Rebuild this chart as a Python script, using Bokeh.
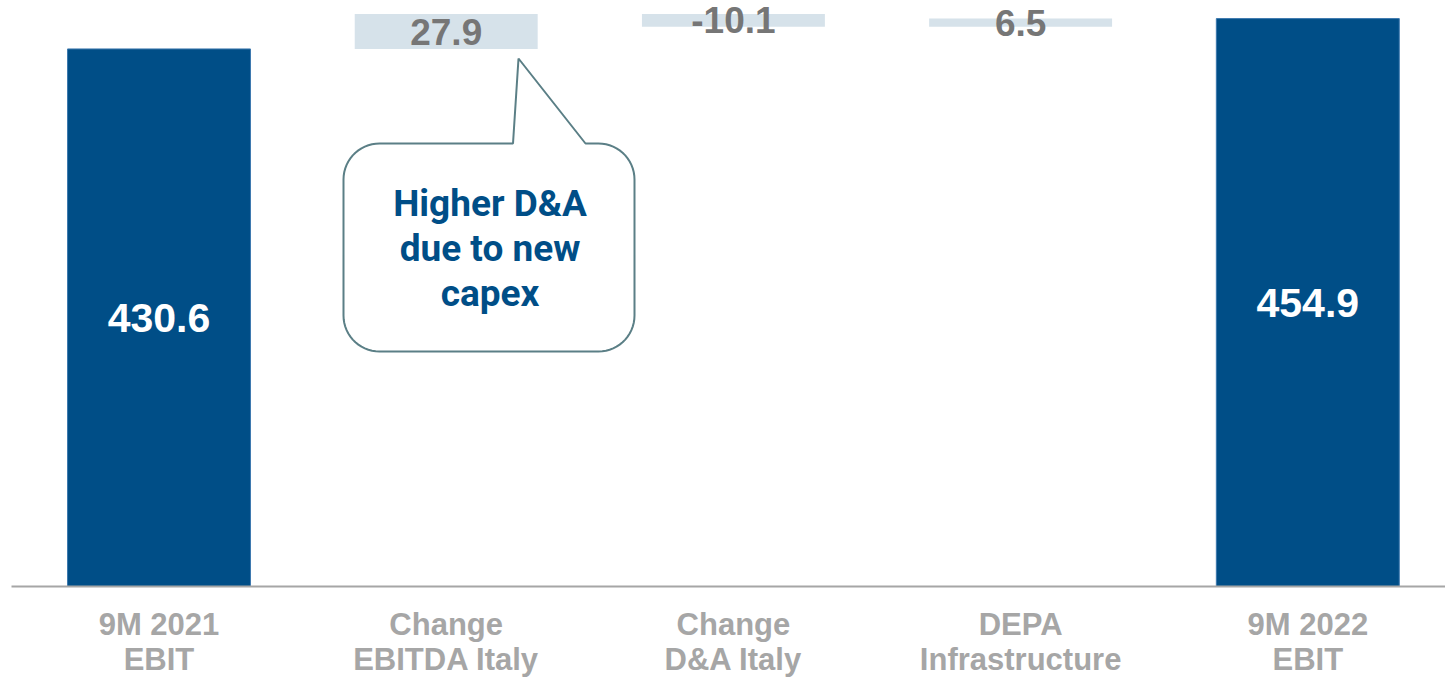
import numpy as np
from bokeh.plotting import figure
from bokeh.models import ColumnDataSource, FixedTicker, Range1d
from bokeh.core.properties import value
from bokeh.embed import file_html
from bokeh.resources import INLINE

# ---- data ----
categories = ["9M 2021\nEBIT", "Change\nEBITDA Italy", "Change\nD&A Italy", "DEPA\nInfrastructure", "9M 2022\nEBIT"]
start_total = 430.6
changes = [27.9, -10.1, 6.5]
end_total = 454.9
callout_text = "Higher D&A\ndue to new\ncapex"

# ---- waterfall geometry ----
xs = list(range(len(categories)))
bottoms, tops, labels, is_total = [], [], [], []
bottoms.append(0); tops.append(start_total); labels.append(f"{start_total:.1f}"); is_total.append(True)
run = start_total
for d in changes:
    nb, nt = min(run, run + d), max(run, run + d)
    bottoms.append(nb); tops.append(nt); labels.append(f"{d:.1f}"); is_total.append(False)
    run += d
bottoms.append(0); tops.append(end_total); labels.append(f"{end_total:.1f}"); is_total.append(True)

DARK = "#004E87"
LIGHT = "#D6E2EA"
tot_idx = [i for i in xs if is_total[i]]
chg_idx = [i for i in xs if not is_total[i]]

W, H = 1445, 679
left_pad, bottom_pad = 11, 93
frame_w, frame_h = W - left_pad, H - bottom_pad
x0, x1 = -0.5136, 4.4794
y0, y1 = 0, 469.4

p = figure(width=W, height=H, output_backend="svg", toolbar_location=None,
           x_range=Range1d(x0, x1), y_range=Range1d(y0, y1),
           min_border_left=left_pad, min_border_right=0, min_border_top=0,
           min_border_bottom=bottom_pad, y_axis_location=None,
           background_fill_color="white", border_fill_color="white")
p.outline_line_color = None
p.grid.visible = False

def make_src(idx):
    return ColumnDataSource(dict(x=[xs[i] for i in idx], b=[bottoms[i] for i in idx],
                                 t=[tops[i] for i in idx], lab=[labels[i] for i in idx],
                                 m=[(bottoms[i] + tops[i]) / 2 for i in idx]))
src_t = make_src(tot_idx)
src_c = make_src(chg_idx)

bw = 0.637
p.vbar(x="x", bottom="b", top="t", width=bw, source=src_t, fill_color=DARK,
       line_color="#3C78AE", line_width=1)
p.vbar(x="x", bottom="b", top="t", width=bw, source=src_c, fill_color=LIGHT, line_color=None)

p.text(x="x", y="m", text="lab", source=src_t, text_align="center", text_baseline="middle",
       text_color="white", text_font=value("Liberation Sans"), text_font_style="bold",
       text_font_size="41px")
p.text(x="x", y="m", text="lab", source=src_c, text_align="center", text_baseline="middle",
       text_color="#767676", text_font=value("Liberation Sans"), text_font_style="bold",
       text_font_size="37px")

# ---- callout (speech bubble), designed in screen pixels, converted to data ----
sx = frame_w / (x1 - x0)
sy = frame_h / (y1 - y0)
def to_data(px, py):
    return x0 + (px - left_pad) / sx, y0 + (frame_h - py) / sy

bx0, bx1, by0, by1, r = 343, 634, 143, 351, 36
tail = [(512.5, 143), (518, 58), (585, 143)]
pts = []
def arc(cx, cy, a0, a1):
    for a in np.linspace(a0, a1, 16):
        pts.append((cx + r * np.cos(a), cy + r * np.sin(a)))
arc(bx0 + r, by0 + r, np.pi, 1.5 * np.pi)
pts.extend(tail)
arc(bx1 - r, by0 + r, 1.5 * np.pi, 2 * np.pi)
arc(bx1 - r, by1 - r, 0, 0.5 * np.pi)
arc(bx0 + r, by1 - r, 0.5 * np.pi, np.pi)
dpts = [to_data(a, b) for a, b in pts]
p.patch([q[0] for q in dpts], [q[1] for q in dpts], fill_color="white",
        line_color="#5B7F86", line_width=2)
tx, ty = to_data((bx0 + bx1) / 2 + 1, (by0 + by1) / 2 + 1)
p.text(x=[tx], y=[ty], text=[callout_text], text_align="center", text_baseline="middle",
       text_color="#004E87", text_font=value("Roboto"), text_font_style="bold",
       text_font_size="37px", text_line_height=1.05)

# ---- axis ----
ax = p.xaxis[0]
ax.ticker = FixedTicker(ticks=xs)
ax.major_label_overrides = {i: c for i, c in zip(xs, categories)}
ax.axis_line_color = "#A6A6A6"
ax.axis_line_width = 2
ax.major_tick_line_color = None
ax.minor_tick_line_color = None
ax.major_tick_out = 0
ax.major_tick_in = 0
ax.major_label_standoff = 20
ax.major_label_text_color = "#A6A6A6"
ax.major_label_text_font = "Liberation Sans"
ax.major_label_text_font_style = "bold"
ax.major_label_text_font_size = "31px"
ax.major_label_text_line_height = 1.0

open("out.html", "w").write(file_html(p, INLINE))
